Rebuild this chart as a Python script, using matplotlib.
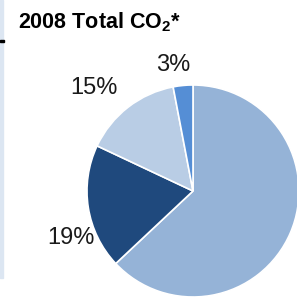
import matplotlib
matplotlib.use("Agg")
import matplotlib.pyplot as plt
from matplotlib.patches import Rectangle

plt.rcParams['font.family'] = ['Liberation Sans', 'DejaVu Sans']
plt.rcParams['mathtext.fontset'] = 'custom'
plt.rcParams['mathtext.rm'] = 'Liberation Sans:bold'
plt.rcParams['mathtext.bf'] = 'Liberation Sans:bold'

# data
shares = [63, 19, 15, 3]
colors = ['#95b3d7', '#1f497d', '#b9cde5', '#558ed5']
labels = ['', '19%', '15%', '3%']
label_pos = [None, (-1.15, -0.44), (-0.93, 0.97), (-0.19, 1.19)]

W = 297
fig = plt.figure(figsize=(2.97, 2.97), dpi=100)

# left edge band and tick
fig.patches.append(Rectangle((0, 1 - 278 / W), 3 / W, 278 / W, transform=fig.transFigure,
                             color='#dce6f2', zorder=0))
fig.patches.append(Rectangle((0, 1 - 42 / W), 4 / W, 2 / W, transform=fig.transFigure,
                             color='black', zorder=1))

ax = fig.add_axes([87 / W, 0, 212 / W, 212 / W])
ax.pie(shares, colors=colors, startangle=90, counterclock=False,
       wedgeprops=dict(edgecolor='white', linewidth=1.2))
ax.set_xlim(-1, 1)
ax.set_ylim(-1, 1)
ax.set_aspect('equal')
ax.axis('off')

for lab, pos in zip(labels, label_pos):
    if pos is None:
        continue
    ax.text(pos[0], pos[1], lab, ha='center', va='center', fontsize=17,
            color='#1a1a1a', clip_on=False)

fig.text(18 / W, 1 - 28 / W, r'2008 Total CO$_{2}$*', fontsize=15.5, fontweight='bold',
         ha='left', va='baseline')

fig.savefig('out.png', dpi=100)
